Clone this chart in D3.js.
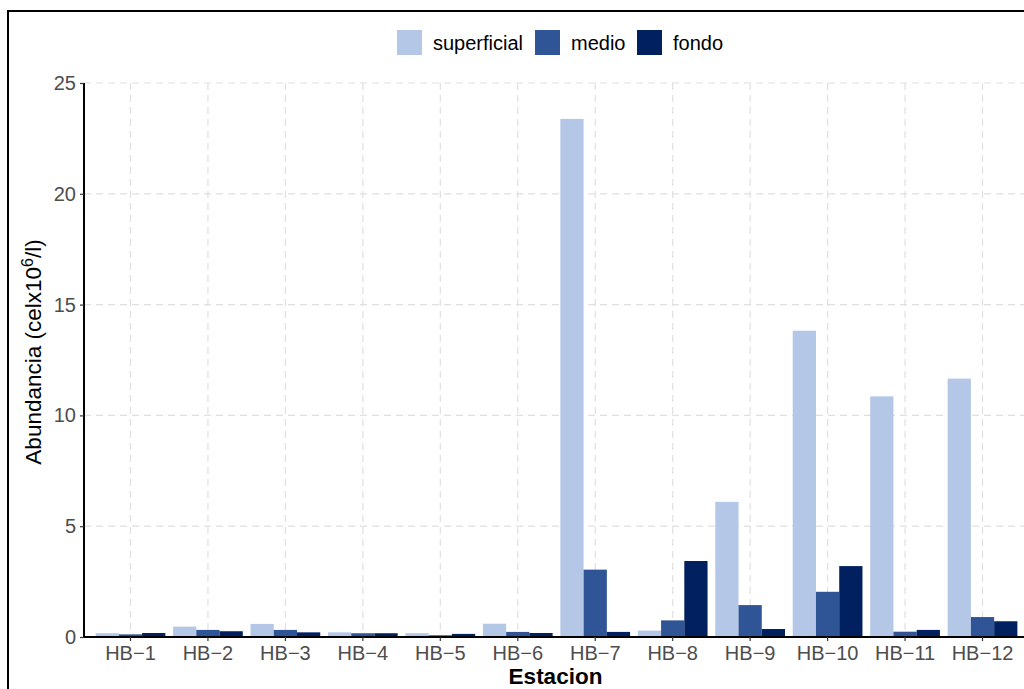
<!DOCTYPE html>
<html>
<head>
<meta charset="utf-8">
<script src="https://cdn.jsdelivr.net/npm/d3@7"></script>
<style>
  html, body { margin: 0; padding: 0; background: #fff; overflow: hidden; }
  svg { display: block; font-family: "Liberation Sans", Arial, sans-serif; }
</style>
</head>
<body>
<svg id="chart" width="1024" height="689"></svg>
<script>
// Stations sampled and phytoplankton abundance (cells x 10^6 per litre) by depth
const estaciones = ["HB-1","HB-2","HB-3","HB-4","HB-5","HB-6","HB-7","HB-8","HB-9","HB-10","HB-11","HB-12"];
const niveles = ["superficial", "medio", "fondo"];
const superficial = [0.17, 0.47, 0.59, 0.21, 0.17, 0.60, 23.38, 0.29, 6.10, 13.82, 10.86, 11.66];
const medio       = [0.12, 0.32, 0.32, 0.17, 0.08, 0.23, 3.04, 0.75, 1.44, 2.04, 0.24, 0.90];
const fondo       = [0.18, 0.26, 0.21, 0.17, 0.14, 0.18, 0.23, 3.43, 0.36, 3.20, 0.32, 0.71];
const yTicks = [0, 5, 10, 15, 20, 25];
const colores = ["#b4c7e7", "#2f5597", "#002060"];

const series = { superficial, medio, fondo };
const filas = estaciones.flatMap((e, i) => niveles.map(n => ({ estacion: e, nivel: n, valor: series[n][i] })));

const svg = d3.select("#chart");
const pLeft = 84, pRight = 1029, pTop = 83, pBottom = 637;

// outer frame
svg.append("rect").attr("x", 8).attr("y", 11).attr("width", 1040).attr("height", 700)
  .attr("fill", "#fff").attr("stroke", "#000").attr("stroke-width", 2);

const x = d3.scaleBand().domain(estaciones).range([pLeft, pRight]).paddingInner(0).paddingOuter(0.1);
const step = x.step();
const xi = d3.scaleBand().domain(niveles).range([-0.45 * step, 0.45 * step]);
const y = d3.scaleLinear().domain([0, 25]).range([pBottom, pTop]);
const color = d3.scaleOrdinal().domain(niveles).range(colores);

// grid
const grid = svg.append("g").attr("stroke", "#e0e0e0").attr("stroke-width", 1.2).attr("stroke-dasharray", "7,5");
grid.selectAll("line.h").data(yTicks.filter(t => t > 0)).join("line")
  .attr("x1", pLeft).attr("x2", pRight).attr("y1", d => y(d)).attr("y2", d => y(d));
grid.selectAll("line.v").data(estaciones).join("line")
  .attr("x1", d => x(d) + step / 2).attr("x2", d => x(d) + step / 2)
  .attr("y1", pTop).attr("y2", pBottom);

// bars
svg.append("g").selectAll("rect").data(filas).join("rect")
  .attr("x", d => x(d.estacion) + step / 2 + xi(d.nivel))
  .attr("width", xi.bandwidth())
  .attr("y", d => y(d.valor))
  .attr("height", d => y(0) - y(d.valor))
  .attr("fill", d => color(d.nivel));

// axes
const yAxis = svg.append("g").attr("transform", `translate(${pLeft},0)`)
  .call(d3.axisLeft(y).tickValues(yTicks).tickSize(4).tickPadding(4));
const xAxis = svg.append("g").attr("transform", `translate(0,${pBottom})`)
  .call(d3.axisBottom(x).tickSize(4).tickPadding(5).tickFormat(d => d.replace("-", "\u2212")));
[yAxis, xAxis].forEach(a => {
  a.select(".domain").attr("stroke", "#000").attr("stroke-width", 2);
  a.selectAll(".tick line").attr("stroke", "#333").attr("stroke-width", 1.2);
  a.selectAll(".tick text").attr("fill", "#4d4d4d").style("font-size", "20px")
    .style("font-family", "'Liberation Sans', Arial, sans-serif");
});
yAxis.select(".domain").attr("d", `M0,${pTop}V${pBottom}`);
xAxis.select(".domain").attr("d", `M${pLeft},0H${pRight}`);

// axis titles
svg.append("text").attr("x", (pLeft + pRight) / 2 - 1).attr("y", 684)
  .attr("text-anchor", "middle").style("font-size", "22.5px").style("font-weight", "bold")
  .text("Estacion");

const yt = svg.append("text").attr("transform", `translate(41,${(pTop + pBottom) / 2 - 8}) rotate(-90)`)
  .attr("text-anchor", "middle").style("font-size", "22.5px");
yt.append("tspan").text("Abundancia (celx10");
yt.append("tspan").attr("dy", -8).style("font-size", "16px").text("6");
yt.append("tspan").attr("dy", 8).text("/l)");

// legend
const legX = [397, 535, 637];
const leg = svg.append("g").selectAll("g").data(niveles).join("g")
  .attr("transform", (d, i) => `translate(${legX[i]},30)`);
leg.append("rect").attr("width", 25).attr("height", 25).attr("fill", d => color(d));
leg.append("text").attr("x", 36).attr("y", 20).style("font-size", "20px").attr("fill", "#000").text(d => d);
</script>
</body>
</html>
